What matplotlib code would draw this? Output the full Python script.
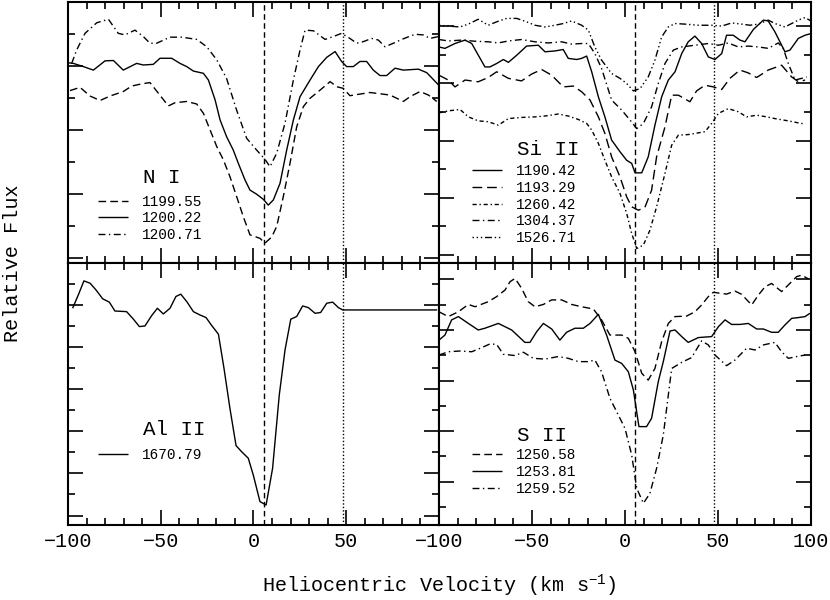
import matplotlib
matplotlib.use("Agg")
import matplotlib.pyplot as plt
from matplotlib.ticker import MultipleLocator
import numpy as np

plt.rcParams['font.family'] = ['Liberation Mono', 'DejaVu Sans Mono']
plt.rcParams['mathtext.fontset'] = 'custom'
plt.rcParams['mathtext.rm'] = 'Liberation Mono'
plt.rcParams['mathtext.it'] = 'Liberation Mono'

# ---------------------------- N I (top left)
ni_1200_22_v = [-100.0, -97.1, -91.7, -86.3, -80.0, -75.5, -70.2, -63.0, -59.4, -54.0, -50.4, -44.1,
                -39.6, -36.0, -32.4, -27.0, -24.3, -20.7, -18.0, -14.5, -10.9, -8.2, -4.6, -1.9, 1.7,
                5.3, 8.0, 10.7, 14.3, 17.9, 21.5, 25.1, 30.5, 35.0, 39.5, 44.0, 47.5, 50.2, 53.8, 57.4,
                61.0, 64.6, 68.2, 71.8, 76.3, 80.8, 88.9, 93.4, 99.7]
ni_1200_22_f = [1.009, 1.007, 0.997, 0.986, 1.015, 1.016, 0.986, 1.007, 1.002, 1.004, 1.023, 1.023,
                1.007, 0.997, 0.983, 0.976, 0.955, 0.893, 0.830, 0.778, 0.736, 0.695, 0.643, 0.611, 0.598,
                0.582, 0.564, 0.580, 0.632, 0.736, 0.830, 0.903, 0.955, 0.997, 1.026, 1.044, 1.013, 0.997,
                0.997, 1.013, 1.013, 0.986, 0.969, 0.969, 0.992, 0.986, 0.989, 0.978, 0.940]

ni_1199_55_v = [-98.9, -93.5, -88.1, -82.7, -77.3, -70.2, -65.7, -60.3, -55.8, -51.3, -45.9, -42.3,
                -36.0, -30.6, -27.0, -23.4, -19.8, -16.2, -12.7, -9.1, -5.5, -1.9, 3.5, 6.2, 9.8, 12.5,
                16.1, 19.7, 23.3, 26.9, 30.5, 35.0, 41.3, 44.9, 48.4, 52.0, 57.4, 62.8, 73.6, 80.8, 84.4,
                89.8, 94.3, 98.8]
ni_1199_55_f = [0.922, 0.932, 0.905, 0.891, 0.905, 0.919, 0.936, 0.943, 0.947, 0.914, 0.874, 0.884,
                0.888, 0.880, 0.851, 0.799, 0.747, 0.705, 0.653, 0.591, 0.528, 0.471, 0.460, 0.445, 0.464,
                0.497, 0.591, 0.695, 0.809, 0.872, 0.898, 0.919, 0.950, 0.934, 0.929, 0.906, 0.911, 0.916,
                0.908, 0.888, 0.903, 0.919, 0.908, 0.888]

ni_1200_71_v = [-98.0, -95.3, -90.8, -84.5, -78.2, -72.9, -69.3, -63.9, -59.4, -55.8, -52.2, -45.0,
                -38.7, -30.6, -25.2, -19.8, -14.5, -9.1, -3.7, 1.7, 6.2, 8.9, 12.5, 17.0, 21.5, 25.1, 27.8,
                32.3, 38.6, 43.1, 47.5, 52.0, 55.6, 59.2, 63.7, 67.3, 70.9, 75.4, 79.9, 87.1, 91.6, 95.2,
                99.7]
ni_1200_71_f = [1.007, 1.049, 1.101, 1.134, 1.145, 1.101, 1.096, 1.111, 1.091, 1.070, 1.070, 1.089,
                1.089, 1.082, 1.059, 1.018, 0.960, 0.861, 0.773, 0.736, 0.707, 0.684, 0.726, 0.820, 0.955,
                1.049, 1.111, 1.109, 1.082, 1.091, 1.101, 1.085, 1.070, 1.075, 1.085, 1.080, 1.059, 1.070,
                1.082, 1.098, 1.096, 1.085, 1.091]

# ---------------------------- Si II (top right)
si_1190_42_v = [-100.0, -96.8, -91.4, -86.0, -82.4, -75.3, -72.6, -69.0, -65.4, -62.7, -58.2, -52.9,
                -46.6, -43.0, -37.6, -33.2, -30.5, -26.0, -23.3, -20.6, -17.9, -14.3, -10.8, -7.2, -2.7,
                0.9, 3.6, 5.4, 9.0, 12.5, 16.1, 19.7, 23.3, 26.9, 30.5, 34.0, 37.6, 41.2, 44.8, 48.4,
                52.0, 54.6, 58.2, 61.8, 64.5, 69.0, 74.4, 77.0, 80.6, 86.0, 88.7, 93.2, 96.8, 100.0]
si_1190_42_f = [1.128, 1.123, 1.140, 1.152, 1.140, 1.058, 1.058, 1.070, 1.084, 1.074, 1.099, 1.131,
                1.134, 1.111, 1.114, 1.119, 1.088, 1.084, 1.088, 1.096, 1.041, 0.953, 0.883, 0.802, 0.761,
                0.731, 0.720, 0.687, 0.687, 0.743, 0.854, 0.953, 1.012, 1.041, 1.105, 1.146, 1.166, 1.140,
                1.093, 1.084, 1.105, 1.169, 1.169, 1.152, 1.146, 1.189, 1.222, 1.219, 1.181, 1.111, 1.117,
                1.158, 1.169, 1.175]

si_1193_29_v = [-100.0, -95.0, -91.4, -86.0, -78.9, -73.5, -69.0, -62.7, -55.6, -50.2, -44.8, -39.4,
                -33.2, -27.8, -23.3, -18.8, -14.3, -10.8, -7.2, -2.7, 0.9, 3.6, 7.2, 10.7, 14.3, 17.0,
                21.5, 25.1, 28.7, 34.9, 38.5, 43.0, 47.5, 52.0, 56.4, 61.8, 66.3, 70.8, 77.0, 84.2, 89.6,
                93.2, 96.8]
si_1193_29_f = [1.029, 1.012, 0.988, 1.012, 1.006, 1.021, 1.041, 1.018, 1.009, 1.033, 1.049, 1.029,
                0.988, 0.991, 0.971, 0.942, 0.883, 0.825, 0.743, 0.673, 0.603, 0.568, 0.556, 0.566, 0.626,
                0.743, 0.848, 0.959, 0.959, 0.936, 0.974, 0.994, 0.988, 0.979, 1.018, 1.047, 1.037, 1.021,
                1.047, 1.064, 1.023, 1.006, 1.012]

si_1260_42_v = [-100.0, -95.0, -88.7, -84.2, -78.9, -73.5, -68.1, -62.7, -55.6, -48.4, -43.0, -35.9,
                -30.5, -25.1, -20.6, -17.9, -14.3, -10.8, -7.2, -2.7, 0.9, 3.6, 6.3, 9.9, 13.4, 17.0,
                21.5, 25.1, 28.7, 34.0, 39.4, 43.0, 46.6, 50.2, 55.5, 60.9, 65.4, 70.8, 76.2, 80.6, 87.8,
                93.2, 96.8]
si_1260_42_f = [0.897, 0.904, 0.909, 0.883, 0.869, 0.866, 0.854, 0.877, 0.881, 0.883, 0.886, 0.893,
                0.886, 0.874, 0.860, 0.837, 0.790, 0.731, 0.673, 0.615, 0.545, 0.475, 0.422, 0.434, 0.486,
                0.568, 0.685, 0.784, 0.819, 0.821, 0.827, 0.831, 0.860, 0.895, 0.912, 0.901, 0.883, 0.889,
                0.883, 0.877, 0.869, 0.862, 0.858]

si_1304_37_v = [-100.0, -95.0, -87.8, -80.7, -73.5, -68.1, -62.7, -55.6, -48.4, -41.2, -34.1, -28.7,
                -23.3, -19.7, -16.2, -12.6, -7.2, -1.8, 2.7, 6.3, 9.9, 14.3, 17.9, 21.5, 26.0, 30.5, 37.6,
                44.8, 50.2, 55.5, 60.9, 66.3, 71.7, 77.0, 82.4, 85.1, 87.8, 91.4, 95.0, 97.7]
si_1304_37_f = [1.154, 1.149, 1.152, 1.148, 1.146, 1.142, 1.149, 1.154, 1.146, 1.142, 1.146, 1.138,
                1.140, 1.140, 1.105, 1.053, 0.942, 0.907, 0.872, 0.842, 0.860, 0.918, 1.000, 1.070, 1.117,
                1.128, 1.134, 1.140, 1.134, 1.142, 1.128, 1.131, 1.128, 1.123, 1.142, 1.123, 1.070, 1.012,
                1.018, 1.023]

si_1526_71_v = [-100.0, -95.0, -88.7, -84.2, -78.9, -73.5, -69.0, -63.6, -58.2, -52.9, -48.4, -43.0,
                -37.6, -33.2, -28.7, -23.3, -19.7, -16.2, -12.6, -7.2, -2.7, 0.9, 4.5, 8.1, 12.5, 16.1,
                19.7, 23.3, 26.9, 32.2, 39.4, 46.6, 52.0, 57.3, 62.7, 67.2, 71.7, 77.0, 80.6, 86.0, 89.6,
                93.2, 96.8, 100.0]
si_1526_71_f = [1.204, 1.201, 1.198, 1.208, 1.225, 1.204, 1.216, 1.228, 1.228, 1.216, 1.204, 1.198,
                1.204, 1.210, 1.219, 1.204, 1.187, 1.128, 1.082, 1.035, 1.018, 1.000, 0.974, 0.982, 1.023,
                1.082, 1.163, 1.198, 1.210, 1.208, 1.204, 1.204, 1.201, 1.212, 1.208, 1.204, 1.208, 1.222,
                1.210, 1.198, 1.210, 1.222, 1.231, 1.219]

# ---------------------------- Al II (bottom left)
al_1670_79_v = [-97.5, -94.4, -91.4, -88.1, -84.9, -81.3, -77.7, -74.7, -68.4, -64.8, -61.5, -58.5,
                -54.9, -51.8, -48.6, -45.0, -41.8, -39.2, -36.0, -32.4, -28.8, -25.6, -22.5, -18.9, -15.9,
                -12.7, -9.4, -6.4, -2.8, -0.1, 3.5, 6.8, 10.3, 13.9, 17.0, 20.1, 23.3, 26.5, 29.6, 33.2,
                36.2, 39.5, 42.7, 45.8, 48.1, 99.0]
al_1670_79_f = [0.984, 1.048, 1.114, 1.103, 1.071, 1.029, 1.013, 0.971, 0.968, 0.933, 0.897, 0.900,
                0.949, 0.984, 0.957, 0.984, 1.040, 1.051, 1.016, 0.968, 0.952, 0.940, 0.902, 0.861, 0.699,
                0.509, 0.332, 0.303, 0.272, 0.192, 0.066, 0.050, 0.224, 0.572, 0.786, 0.932, 0.945, 0.995,
                0.987, 0.960, 0.964, 1.008, 1.013, 0.987, 0.976, 0.976]

# ---------------------------- S II (bottom right)
s_1250_58_v = [-100.0, -95.0, -89.6, -84.2, -80.6, -73.5, -69.0, -64.5, -61.8, -59.1, -55.6, -52.0,
               -48.4, -43.9, -39.4, -34.0, -28.7, -23.3, -17.0, -12.6, -8.1, -1.8, 1.8, 5.4, 9.0, 12.5,
               16.1, 19.7, 23.3, 26.9, 33.1, 37.6, 41.2, 44.8, 47.5, 54.6, 59.1, 62.7, 68.1, 71.7, 75.3,
               78.8, 84.2, 87.8, 92.3, 95.0, 98.6]
s_1250_58_f = [1.072, 1.053, 1.072, 1.101, 1.092, 1.112, 1.132, 1.158, 1.191, 1.204, 1.165, 1.112,
               1.092, 1.101, 1.119, 1.119, 1.101, 1.092, 1.083, 1.040, 0.980, 0.980, 0.967, 0.914, 0.829,
               0.802, 0.848, 0.954, 1.026, 1.053, 1.055, 1.072, 1.099, 1.132, 1.149, 1.142, 1.154, 1.141,
               1.099, 1.138, 1.171, 1.184, 1.152, 1.178, 1.211, 1.217, 1.202]

s_1253_81_v = [-100.0, -96.8, -93.2, -89.6, -84.2, -78.9, -75.3, -68.1, -60.9, -53.8, -51.1, -47.5,
               -43.9, -39.4, -35.0, -31.4, -26.9, -22.4, -18.8, -14.3, -9.9, -5.4, -1.8, 1.8, 4.5, 7.5,
               11.6, 14.3, 17.9, 20.6, 24.2, 26.9, 30.5, 34.0, 39.4, 46.6, 50.2, 53.8, 57.3, 61.8, 66.3,
               70.8, 74.4, 78.8, 82.4, 86.0, 89.6, 94.1, 96.8, 99.4]
s_1253_81_f = [0.960, 0.980, 1.040, 1.053, 1.026, 1.000, 1.007, 1.026, 1.000, 0.951, 0.951, 0.993,
               1.026, 1.004, 0.960, 0.991, 1.007, 1.007, 1.026, 1.062, 0.980, 0.881, 0.868, 0.835, 0.763,
               0.618, 0.618, 0.651, 0.796, 0.875, 0.996, 1.000, 0.974, 0.951, 0.970, 0.974, 1.013, 1.040,
               1.022, 1.022, 1.026, 1.004, 1.004, 0.991, 0.991, 1.020, 1.046, 1.050, 1.053, 1.066]

s_1259_52_v = [-100.0, -95.0, -88.7, -82.4, -77.1, -72.6, -69.0, -65.4, -59.1, -54.6, -49.3, -43.0,
               -35.9, -30.5, -25.1, -19.7, -16.2, -12.6, -8.1, -3.6, 0.0, 3.6, 6.3, 9.9, 13.4, 17.0,
               20.6, 25.1, 30.5, 35.8, 41.2, 44.8, 48.4, 54.6, 59.1, 65.4, 69.9, 74.4, 80.6, 84.2, 87.8,
               92.3, 96.8]
s_1259_52_f = [0.901, 0.914, 0.917, 0.914, 0.930, 0.945, 0.943, 0.904, 0.899, 0.912, 0.888, 0.885,
               0.895, 0.888, 0.875, 0.875, 0.881, 0.835, 0.730, 0.664, 0.611, 0.506, 0.374, 0.315, 0.354,
               0.453, 0.585, 0.848, 0.872, 0.891, 0.957, 0.941, 0.901, 0.859, 0.881, 0.928, 0.921, 0.941,
               0.951, 0.914, 0.888, 0.895, 0.901]

v_comp = 5.5     # dashed marker
v_hvc = 48.0     # dotted marker

# line styles
solid = (0, ())
dashed = (0, (5.5, 3))
longdash = (0, (7, 3.5))
dashdot = (0, (5, 2.5, 1, 2.5))
shortdashdot = (0, (3, 2, 1, 2))
dashdotdotdot = (0, (1, 2, 1, 2, 1, 2, 5, 2))

panels = [
    # name, rect, ylim, lines
    ("N I", [0.0819, 0.5617, 0.447, 0.435], (0.383, 1.199),
     [(ni_1199_55_v, ni_1199_55_f, dashed, "1199.55"),
      (ni_1200_22_v, ni_1200_22_f, solid, "1200.22"),
      (ni_1200_71_v, ni_1200_71_f, dashdot, "1200.71")]),
    ("Si II", [0.5289, 0.5617, 0.4482, 0.435], (0.3712, 1.2855),
     [(si_1190_42_v, si_1190_42_f, solid, "1190.42"),
      (si_1193_29_v, si_1193_29_f, longdash, "1193.29"),
      (si_1260_42_v, si_1260_42_f, shortdashdot, "1260.42"),
      (si_1304_37_v, si_1304_37_f, dashdot, "1304.37"),
      (si_1526_71_v, si_1526_71_f, dashdotdotdot, "1526.71")]),
    ("Al II", [0.0819, 0.125, 0.447, 0.4367], (-0.045, 1.199),
     [(al_1670_79_v, al_1670_79_f, solid, "1670.79")]),
    ("S II", [0.5289, 0.125, 0.4482, 0.4367], (0.229, 1.265),
     [(s_1250_58_v, s_1250_58_f, dashed, "1250.58"),
      (s_1253_81_v, s_1253_81_f, solid, "1253.81"),
      (s_1259_52_v, s_1259_52_f, dashdot, "1259.52")]),
]

# label / legend placement (axes fraction)
title_pos = [(0.202, 0.326), (0.209, 0.433), (0.202, 0.363), (0.209, 0.341)]
leg_pos = [(0.081, 0.262), (0.088, 0.380), (0.081, 0.293), (0.088, 0.293)]

fig = plt.figure(figsize=(8.3, 6.0), dpi=100)

for i, (name, rect, ylim, lines) in enumerate(panels):
    ax = fig.add_axes(rect)
    for v, f, ls, lab in lines:
        ax.plot(v, f, color='black', lw=1.0, linestyle=ls, label=lab)
    ax.axvline(v_comp, color='black', lw=1.0, linestyle=(0, (4, 2.5)))
    ax.axvline(v_hvc, color='black', lw=1.0, linestyle=(0, (1, 1.5)))
    ax.set_xlim(-100, 100)
    ax.set_ylim(*ylim)

    ax.xaxis.set_major_locator(MultipleLocator(50))
    ax.xaxis.set_minor_locator(MultipleLocator(10))
    ax.yaxis.set_major_locator(MultipleLocator(0.2))
    ax.yaxis.set_minor_locator(MultipleLocator(0.1))
    ax.tick_params(which='both', direction='in', top=True, right=True,
                   labelleft=False, width=1.2, color='black')
    ax.tick_params(which='major', length=10.5)
    ax.tick_params(which='minor', length=5)
    for sp in ax.spines.values():
        sp.set_linewidth(1.5)

    if i < 2:
        ax.tick_params(labelbottom=False)
    else:
        ax.set_xticks([-100, -50, 0, 50, 100])
        if i == 2:
            ax.set_xticklabels(['\u2212100', '\u221250', '0', '50', ''])
        else:
            ax.set_xticklabels(['\u2212100', '\u221250', '0', '50', '100'])
        ax.tick_params(axis='x', labelsize=14.5, pad=5)

    ax.text(title_pos[i][0], title_pos[i][1], name, transform=ax.transAxes,
            fontsize=15, ha='left', va='center')
    ax.legend(loc='upper left', bbox_to_anchor=leg_pos[i], frameon=False,
              fontsize=10.4, handlelength=2.07, handletextpad=1.0,
              labelspacing=0.2, borderpad=0, borderaxespad=0)

fig.text(0.5295, 0.024, 'Heliocentric Velocity (km s$^{-1}$)', ha='center', va='center',
         fontsize=14.5)
fig.text(0.0145, 0.561, 'Relative Flux', ha='center', va='center', rotation=90,
         fontsize=14.5)

fig.savefig('out.png', dpi=100)
